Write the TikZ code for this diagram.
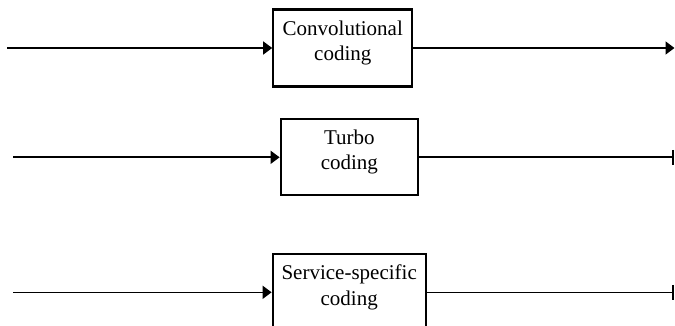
\documentclass[tikz,border=0pt]{standalone}
\usepackage{fontspec}
\setmainfont{Liberation Serif}
\usetikzlibrary{arrows.meta}

\begin{document}
\begin{tikzpicture}[
		x=0.5pt, y=-0.5pt,
		every node/.style={font=\fontsize{10.5}{12.6}\selectfont, align=center},
		codebox/.style={rectangle, draw, line width=1.1pt, inner sep=0pt},
		every label/.append style={draw=none, yshift=2.5pt},
		flow/.style={line width=0.8pt},
		into/.style={flow, -{Triangle[length=4.5pt, width=6.5pt]}},
		stop/.style={flow, -{Bar[width=7.5pt, line width=0.8pt]}}
	]
  \useasboundingbox (0,0) rectangle (675,326);
  \clip (0,0) rectangle (675,326);
  \node (conv) [codebox, minimum width=69.5pt, minimum height=38.5pt,
    label={center:Convolutional\\coding}] at (342.8, 48) {};
  \node (turbo) [codebox, minimum width=68.7pt, minimum height=38pt,
    label={center:Turbo\\coding}] at (349.4, 157.3) {};
  \node (serv) [codebox, minimum width=76.5pt, minimum height=38pt,
    label={center:Service-specific\\coding}] at (349.2, 292.3) {};
  \coordinate (conv_in) at (7, 48);
  \coordinate (conv_out) at (674.5, 48);
  \coordinate (turbo_in) at (13, 157.3);
  \coordinate (turbo_out) at (673.5, 157.3);
  \coordinate (serv_in) at (13, 292.3);
  \coordinate (serv_out) at (673.5, 292.3);
  \draw [into] (conv_in) -- (conv);
  \draw [into] (conv) -- (conv_out);
  \draw [into] (turbo_in) -- (turbo);
  \draw [stop] (turbo) -- (turbo_out);
  \draw [into] (serv_in) -- (serv);
  \draw [stop] (serv) -- (serv_out);
\end{tikzpicture}
\end{document}
